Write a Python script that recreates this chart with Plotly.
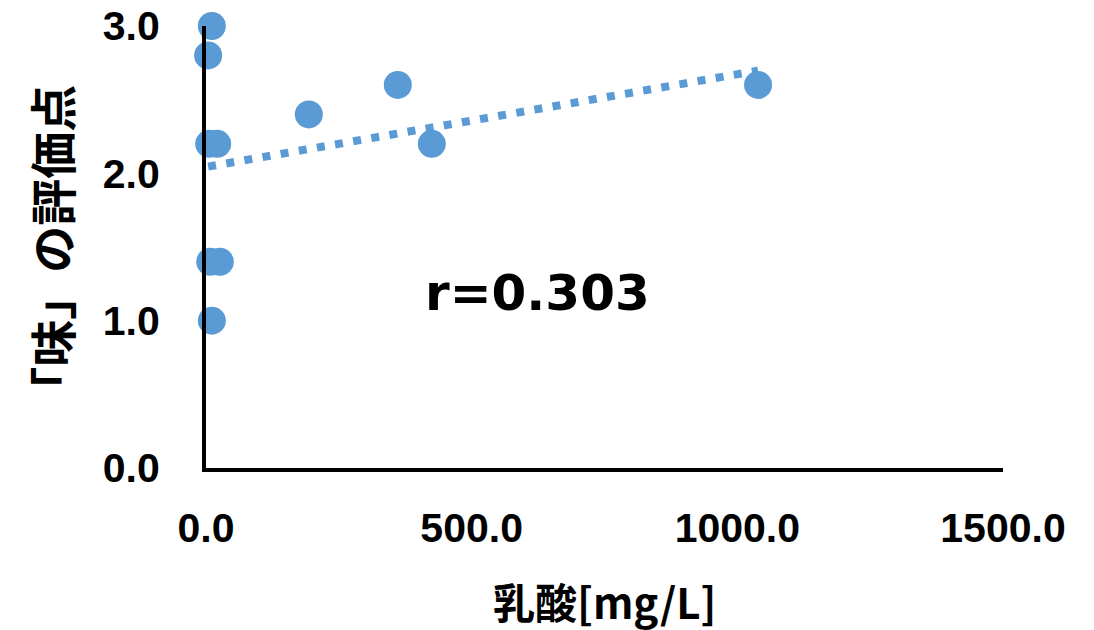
import numpy as np
import plotly.graph_objects as go

# Lactic acid concentration [mg/L] and the "taste" score for each sample
lactic_acid = [4, 11, 6, 21, 8, 26, 11, 193.5, 361, 425, 1039]
taste_score = [2.8, 3.0, 2.2, 2.2, 1.4, 1.4, 1.0, 2.4, 2.6, 2.2, 2.6]

x_ticks = [0, 500, 1000, 1500]
x_tick_text = ["0.0", "500.0", "1000.0", "1500.0"]
y_ticks = [0, 1, 2, 3]
y_tick_text = ["0.0", "1.0", "2.0", "3.0"]

corr_label = "r=0.303"

point_color = "#5B9BD5"
tick_font = dict(family="Liberation Sans", size=41, color="#000000", weight="bold")

# Linear trend over the data range
slope, intercept = np.polyfit(lactic_acid, taste_score, 1)
trend_x = [min(lactic_acid), max(lactic_acid)]
trend_y = [slope * v + intercept for v in trend_x]

fig = go.Figure()

fig.add_trace(go.Scatter(
    x=trend_x, y=trend_y, mode="lines",
    line=dict(color=point_color, width=8, dash="8px,10.4px"),
    hoverinfo="skip", showlegend=False, cliponaxis=False,
))

fig.add_trace(go.Scatter(
    x=lactic_acid, y=taste_score, mode="markers",
    marker=dict(color=point_color, size=28, line=dict(width=0)),
    showlegend=False, cliponaxis=False,
))

fig.update_layout(
    width=1094, height=630,
    margin=dict(l=206, r=91, t=26, b=162),
    paper_bgcolor="white", plot_bgcolor="white",
    xaxis=dict(
        range=[0, 1500], tickvals=x_ticks, ticktext=x_tick_text,
        showgrid=False, zeroline=False,
        showline=True, linecolor="black", linewidth=4,
        ticks="", ticklabelstandoff=21, tickfont=tick_font,
        ticklabeloverflow="allow", automargin=False,
    ),
    yaxis=dict(
        range=[0, 3], tickvals=y_ticks, ticktext=y_tick_text,
        showgrid=False, zeroline=False,
        showline=True, linecolor="black", linewidth=4,
        ticks="", ticklabelstandoff=34, tickfont=tick_font,
        ticklabeloverflow="allow", automargin=False,
    ),
    annotations=[
        dict(
            text="乳酸[mg/L]", xref="paper", yref="paper",
            x=0.5, y=-0.30, xanchor="center", yanchor="middle",
            showarrow=False,
            font=dict(family="Noto Sans CJK JP", size=42, color="#000000", weight="bold"),
        ),
        dict(
            text="「味」の評価点", xref="paper", yref="paper",
            x=-0.195, y=0.495, xanchor="center", yanchor="middle",
            textangle=-90, showarrow=False,
            font=dict(family="Noto Sans CJK JP", size=47, color="#000000", weight="bold"),
        ),
        dict(
            text=corr_label, xref="x", yref="y",
            x=624, y=1.19, xanchor="center", yanchor="middle",
            showarrow=False,
            font=dict(family="DejaVu Sans", size=50, color="#000000", weight="bold"),
        ),
    ],
)

fig.write_html("out.html")
